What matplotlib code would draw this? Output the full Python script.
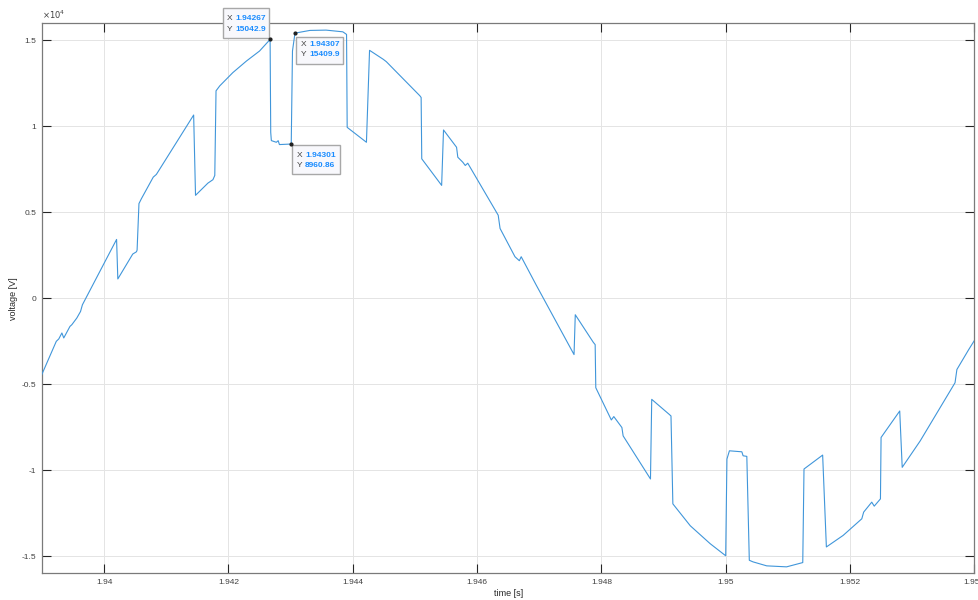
import matplotlib
matplotlib.use('Agg')
from matplotlib import pyplot as plt
from matplotlib import transforms, patches
from matplotlib.ticker import FuncFormatter, MultipleLocator

# waveform (time in s, voltage in V)
time_s = [1.93899, 1.93923, 1.93927, 1.93932, 1.93935, 1.93945, 1.93948, 1.93956, 1.93962, 1.93965,
          1.94020, 1.94022, 1.94046, 1.94052, 1.94053, 1.94056, 1.94060, 1.94079, 1.94084, 1.94144,
          1.94147, 1.94167, 1.94175, 1.94178, 1.94180, 1.94186, 1.94207, 1.94229, 1.94250, 1.94267,
          1.94268, 1.94269, 1.94277, 1.94280, 1.94282, 1.94301, 1.94303, 1.94307, 1.94331, 1.94357,
          1.94384, 1.94390, 1.94391, 1.94422, 1.94427, 1.94449, 1.94454, 1.94508, 1.94510, 1.94511,
          1.94543, 1.94546, 1.94567, 1.94569, 1.94577, 1.94581, 1.94585, 1.94634, 1.94637, 1.94661,
          1.94668, 1.94671, 1.94695, 1.94756, 1.94758, 1.94787, 1.94790, 1.94791, 1.94816, 1.94820,
          1.94833, 1.94835, 1.94879, 1.94881, 1.94909, 1.94912, 1.94915, 1.94943, 1.94975, 1.95000,
          1.95002, 1.95006, 1.95026, 1.95028, 1.95034, 1.95038, 1.95044, 1.95066, 1.95098, 1.95124,
          1.95126, 1.95156, 1.95162, 1.95189, 1.95219, 1.95222, 1.95235, 1.95239, 1.95249, 1.95250,
          1.95280, 1.95284, 1.95313, 1.95369, 1.95372, 1.95391, 1.95401]
voltage_v = [-4500, -2511, -2373, -2025, -2315, -1643, -1545, -1157, -775, -388,
             3414, 1117, 2564, 2697, 2795, 5498, 5787, 7037, 7193, 10648,
             5978, 6690, 6887, 7135, 12054, 12343, 13113, 13790, 14369, 15042.9,
             9641, 9161, 9063, 9155, 8930, 8960.86, 14370, 15409.9, 15567, 15585,
             15486, 15335, 9931, 9063, 14410, 13889, 13750, 11765, 11667, 8102,
             6557, 9780, 8773, 8194, 7905, 7714, 7847, 4821, 4051, 2407,
             2176, 2408, 770, -3281, -966, -2569, -2703, -5208, -7083, -6887,
             -7523, -8009, -10515, -5885, -6754, -6852, -11962, -13235, -14277, -14980,
             -9358, -8877, -8935, -9166, -9201, -15243, -15336, -15567, -15625, -15376,
             -9936, -9126, -14468, -13796, -12830, -12442, -11863, -12095, -11673, -8102,
             -6563, -9838, -8299, -4919, -4149, -2992, -2413]

# data tips
tip_x = [1.94267, 1.94307, 1.94301]
tip_y = [15042.9, 15409.9, 8960.86]
tip_xtxt = ['1.94267', '1.94307', '1.94301']
tip_ytxt = ['15042.9', '15409.9', '8960.86']

x_ticks = [1.94, 1.942, 1.944, 1.946, 1.948, 1.95, 1.952, 1.954]

plt.rcParams['font.family'] = ['Liberation Sans', 'DejaVu Sans']

fig = plt.figure(figsize=(9.79, 6.0), dpi=100)
ax = fig.add_axes([0.0429, 0.0445, 0.9523, 0.9172])

ax.plot(time_s, voltage_v, color='#4096da', lw=0.8, zorder=3)

ax.set_xlim(1.939, 1.954)
ax.set_ylim(-16000, 16000)
ax.set_xticks(x_ticks)
ax.xaxis.set_major_formatter(FuncFormatter(lambda v, p: '%g' % round(v, 4)))
ax.yaxis.set_major_locator(MultipleLocator(5000))
ax.yaxis.set_major_formatter(FuncFormatter(lambda v, p: '%g' % (v / 1e4)))

ax.grid(True, color='#e4e4e4', lw=0.7, zorder=0)
ax.set_axisbelow(True)
for s in ax.spines.values():
    s.set_color('#7a7a7a')
    s.set_linewidth(0.9)
ax.tick_params(direction='in', length=6.5, width=0.8, color='#262626',
               labelsize=6, labelcolor='#404040', top=True, right=True, pad=4)

ax.set_xlabel('time [s]', fontsize=6.5, color='#262626', labelpad=2)
ax.set_ylabel('voltage [V]', fontsize=6.5, color='#262626', labelpad=3)
ax.text(0.0, 1.004, r'$\times10^{4}$', transform=ax.transAxes, fontsize=6,
        color='#404040', ha='left', va='bottom')

# datatip layout: box (left, right, top, bottom), label x, number x, line y's in pixels from the point
tip_layout = [(-47.3, -0.7, 31, 1, -43, -35, 21.3, 10.3),
              (1, 47.7, -4, -31.3, 5.7, 14, -11.3, -21.6),
              (1, 48.3, -1, -30, 6, 14, -11, -21.3)]

for i in range(len(tip_x)):
    x0, x1, yt, yb, lx, nx, l1, l2 = tip_layout[i]
    tr = transforms.Affine2D() + transforms.ScaledTranslation(tip_x[i], tip_y[i], ax.transData)
    box = patches.Rectangle((x0, yb), x1 - x0, yt - yb, transform=tr, fc='#f8f8fc',
                            ec='#a8a8a8', lw=1.0, zorder=5, clip_on=False)
    ax.add_patch(box)
    ax.text(lx, l1, 'X', transform=tr, fontsize=6, color='#404040', va='center', ha='left', zorder=6)
    ax.text(lx, l2, 'Y', transform=tr, fontsize=6, color='#404040', va='center', ha='left', zorder=6)
    ax.text(nx, l1, tip_xtxt[i], transform=tr, fontsize=6, color='#1a8cff', fontweight='bold',
            va='center', ha='left', zorder=6)
    ax.text(nx, l2, tip_ytxt[i], transform=tr, fontsize=6, color='#1a8cff', fontweight='bold',
            va='center', ha='left', zorder=6)
    ax.plot([tip_x[i]], [tip_y[i]], 'o', ms=2.0, color='#202020', zorder=7, clip_on=False)

fig.savefig('out.png', dpi=100)
